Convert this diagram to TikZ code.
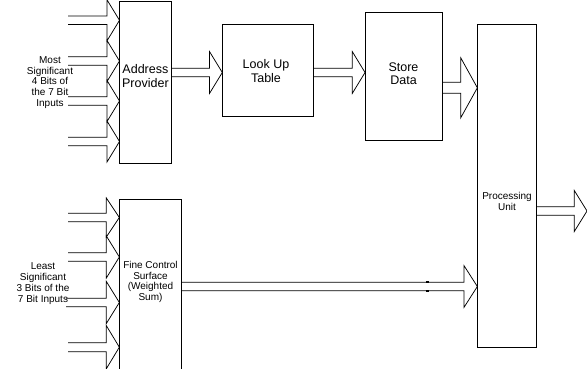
\documentclass[tikz,border=0pt]{standalone}
\usepackage{fontspec}
\setmainfont{Liberation Sans}
\usetikzlibrary{calc}

\tikzset{
  unit/.style={draw=drawColor,line width=0.75pt,inner sep=0pt,outer sep=0pt},
  blockline/.style={draw=drawColor,line width=0.75pt,line join=miter},
  bigtext/.style={text=drawColor,align=center,inner sep=0pt,outer sep=0pt,font=\fontsize{12.5}{13.6}\selectfont},
  smalltext/.style={text=drawColor,align=center,inner sep=0pt,outer sep=0pt,font=\fontsize{10}{10.8}\selectfont}
}

% #1 free end, #2 tip, #3 shaft half width, #4 head half width, #5 head length
\newcommand{\blockarrow}[5]{%
  \path[blockline] ($(#1)+(0,-#3)$) -- ($(#2)+(-#5,-#3)$) -- ($(#2)+(-#5,-#4)$) --
    (#2) -- ($(#2)+(-#5,#4)$) -- ($(#2)+(-#5,#3)$) -- ($(#1)+(0,#3)$);}

\begin{document}
\begin{tikzpicture}[x=1pt,y=-1pt]
\definecolor{drawColor}{RGB}{0,0,0}
\path[use as bounding box] (0,0) rectangle (587,369);
\begin{scope}
\path[clip] (0,0) rectangle (587,369);

\node[unit,minimum width=51.8pt,minimum height=162.3pt] (addr) at (145.4, 82.2) {};
\node[unit,minimum width=91.0pt,minimum height=92.4pt] (lut) at (267.8, 70.5) {};
\node[unit,minimum width=77.7pt,minimum height=127.3pt] (store) at (403.9, 76.4) {};
\node[unit,minimum width=58.7pt,minimum height=323.3pt] (pu) at (506.7,185.7) {};
\node[unit,minimum width=61.7pt,minimum height=200.7pt] (fine) at (150.2,299.7) {};

\node[bigtext] (addrtext) at (145.4, 76.0) {Address\\Provider};
\node[bigtext] (luttext) at (266.0, 71.0) {Look Up\\Table};
\node[bigtext] (storetext) at (403.5, 73.5) {Store\\Data};
\node[smalltext] (putext) at (507.0,201.5) {Processing\\Unit};
\node[smalltext] (finetext) at (150.5,282.0) {Fine Control\\Surface\\(Weighted\\Sum)};

\node[smalltext] (msb) at ( 50.0, 82.5) {Most\\Significant\\4 Bits of\\the 7 Bit\\Inputs};
\node[smalltext] (lsb) at ( 43.0,283.5) {Least\\Significant\\3 Bits of the\\7 Bit Inputs};

% most significant inputs
\coordinate (ms1) at (68, 20.3);
\coordinate (ms2) at (68, 61.0);
\coordinate (ms3) at (68,101.0);
\coordinate (ms4) at (68,141.5);
\blockarrow{ms1}{addr.west |- ms1}{4.3}{20.5}{12.5}
\blockarrow{ms2}{addr.west |- ms2}{4.3}{20.5}{12.5}
\blockarrow{ms3}{addr.west |- ms3}{4.3}{20.5}{12.5}
\blockarrow{ms4}{addr.west |- ms4}{4.3}{20.5}{12.5}

% least significant inputs
\coordinate (ls1) at (68,217.5);
\coordinate (ls2) at (68,257.0);
\coordinate (ls3) at (66,302.5);
\coordinate (ls4) at (68,347.2);
\blockarrow{ls1}{fine.west |- ls1}{4.2}{19.5}{13}
\blockarrow{ls2}{fine.west |- ls2}{4.2}{21.0}{13}
\blockarrow{ls3}{fine.west |- ls3}{4.2}{21.0}{13}
\blockarrow{ls4}{fine.west |- ls4}{4.5}{21.5}{13}

% data path
\coordinate (addrout) at (addr.east |- 0,72.5);
\coordinate (lutout) at (lut.east |- addrout);
\coordinate (storeout) at (store.east |- 0,87.8);
\coordinate (fineout) at (fine.east |- 0,286.5);
\coordinate (puout) at (pu.east |- 0,211.0);
\blockarrow{addrout}{lut.west |- addrout}{4.2}{20.8}{12.7}
\blockarrow{lutout}{store.west |- lutout}{4.2}{20.8}{12.7}
\blockarrow{storeout}{pu.west |- storeout}{5.5}{30.0}{16.6}
\blockarrow{fineout}{pu.west |- fineout}{4.2}{20.8}{13.3}
\blockarrow{puout}{587,211}{4.2}{20.5}{12.7}

\path[draw=drawColor,line width=1.8pt] ($(fineout -| 425.8,0)+(0,-4.2)$) -- ($(fineout -| 429.2,0)+(0,-4.2)$);
\path[draw=drawColor,line width=1.8pt] ($(fineout -| 425.8,0)+(0,4.2)$) -- ($(fineout -| 429.2,0)+(0,4.2)$);
\end{scope}
\end{tikzpicture}
\end{document}
